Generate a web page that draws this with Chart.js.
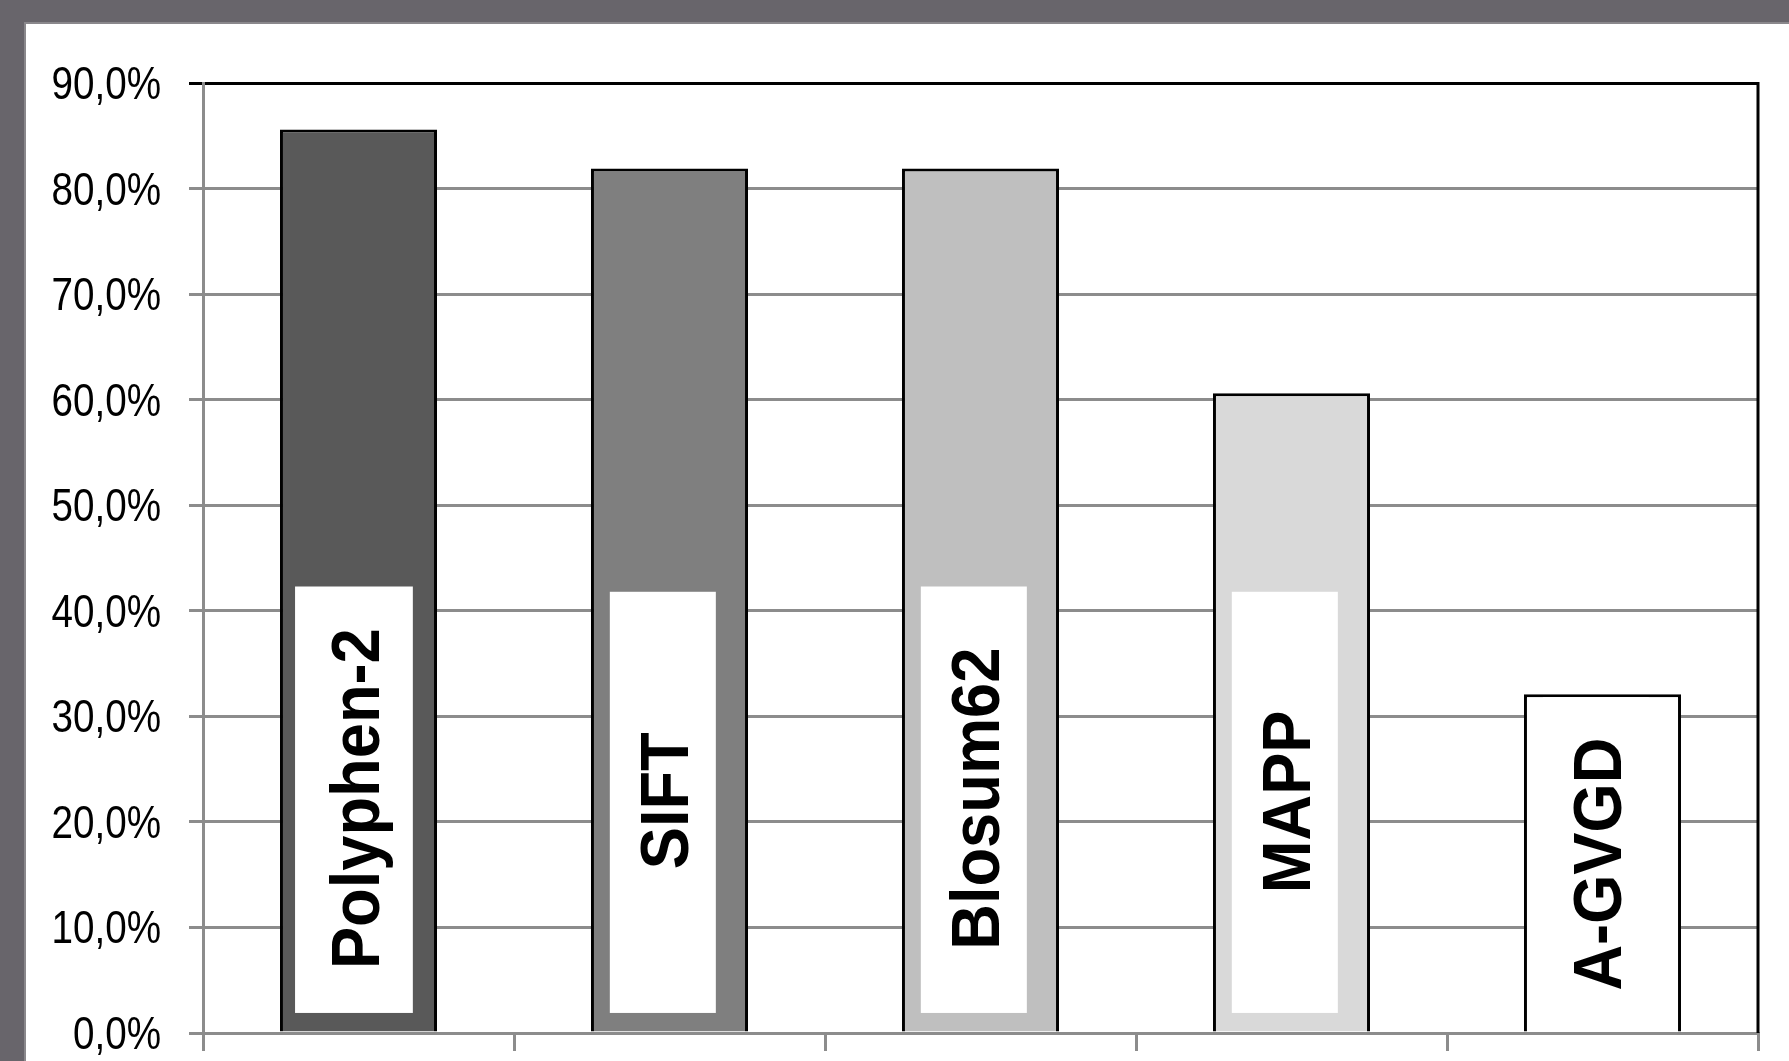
<!DOCTYPE html>
<html>
<head>
<meta charset="utf-8">
<script src="https://cdn.jsdelivr.net/npm/chart.js@4.4.1/dist/chart.umd.min.js"></script>
<style>
  html, body { margin: 0; padding: 0; background: #68656b; }
  #wrap { width: 1789px; height: 1061px; }
</style>
</head>
<body>
<div id="wrap"><canvas id="chart"></canvas></div>
<script>
// Data
const methods = ['Polyphen-2', 'SIFT', 'Blosum62', 'MAPP', 'A-GVGD'];
const accuracy = [85.6, 81.9, 81.9, 60.6, 32.1];
const barColors = ['#595959', '#7f7f7f', '#bfbfbf', '#d9d9d9', '#ffffff'];
const yTicks = [0, 10, 20, 30, 40, 50, 60, 70, 80, 90];

// White label boxes inside the bars (value units) and where the text sits
const boxTop = [42.3, 41.8, 42.3, 41.8, 41.8];
const boxBottom = 1.9;
const labelMid = [22.2, 22.0, 22.2, 21.9, 16.0];

const GRID = '#8c8c8c';

function fmtPct(v) {
    return v.toFixed(1).replace('.', ',') + '%';
}

// panel background (grey frame + white sheet)
const framePlugin = {
    id: 'frame',
    beforeDraw(chart) {
        const ctx = chart.ctx;
        ctx.save();
        ctx.fillStyle = '#68656b';
        ctx.fillRect(0, 0, chart.width, chart.height);
        ctx.fillStyle = '#8a888c';
        ctx.fillRect(24, 22, chart.width - 24, chart.height - 22);
        ctx.fillStyle = '#ffffff';
        ctx.fillRect(26, 24, chart.width - 26, chart.height - 24);
        ctx.restore();
    }
};

// y tick labels, drawn narrow like the original
const yLabelPlugin = {
    id: 'yLabels',
    afterDraw(chart) {
        const ctx = chart.ctx;
        const y = chart.scales.y;
        ctx.save();
        ctx.fillStyle = '#000';
        ctx.font = '46px "Liberation Sans", Arial, sans-serif';
        ctx.textAlign = 'right';
        ctx.textBaseline = 'alphabetic';
        yTicks.forEach(v => {
            const py = y.getPixelForValue(v);
            ctx.save();
            ctx.translate(161, py + 16);
            ctx.scale(0.84, 1);
            ctx.fillText(fmtPct(v), 0, 0);
            ctx.restore();
        });
        ctx.restore();
    }
};

// method names in white boxes inside each bar + right frame line
const barLabelPlugin = {
    id: 'barLabels',
    afterDatasetsDraw(chart) {
        const ctx = chart.ctx;
        const y = chart.scales.y;
        const area = chart.chartArea;
        const bars = chart.getDatasetMeta(0).data;
        ctx.save();
        bars.forEach((bar, i) => {
            const left = bar.x - bar.width / 2;
            const inset = i === 0 ? 0.096 : 0.12;
            const bw = i === 0 ? 0.75 : 0.675;
            const bx = left + bar.width * inset;
            const boxW = bar.width * bw;
            // keep the box inside the bar
            const top = Math.max(y.getPixelForValue(boxTop[i]), bar.y + 3);
            const bottom = y.getPixelForValue(boxBottom);
            ctx.fillStyle = '#ffffff';
            ctx.fillRect(bx, top, boxW, bottom - top);

            const cx = bx + boxW / 2;
            const cy = y.getPixelForValue(labelMid[i]);
            ctx.save();
            ctx.translate(cx + 25, cy);
            ctx.rotate(-Math.PI / 2);
            ctx.scale(0.93, 1);
            ctx.fillStyle = '#000';
            ctx.font = 'bold 68px "Liberation Sans", Arial, sans-serif';
            ctx.textAlign = 'center';
            ctx.textBaseline = 'alphabetic';
            ctx.fillText(methods[i], 0, 0);
            ctx.restore();
        });
        // black right edge of plot
        ctx.strokeStyle = '#000';
        ctx.lineWidth = 3;
        ctx.beginPath();
        ctx.moveTo(area.right, area.top - 1);
        ctx.lineTo(area.right, area.bottom);
        ctx.stroke();
        ctx.restore();
    }
};

const ctx = document.getElementById('chart').getContext('2d');
new Chart(ctx, {
    type: 'bar',
    data: {
        labels: methods,
        datasets: [{
            data: accuracy,
            backgroundColor: barColors,
            borderColor: '#000000',
            borderWidth: 3,
            barPercentage: 0.505,
            categoryPercentage: 1.0
        }]
    },
    options: {
        responsive: true,
        maintainAspectRatio: false,
        animation: false,
        layout: {
            padding: { left: 0, top: 83, right: 31, bottom: 10 }
        },
        plugins: {
            legend: { display: false },
            tooltip: { enabled: false }
        },
        scales: {
            x: {
                grid: {
                    drawOnChartArea: false,
                    drawTicks: true,
                    tickLength: 18,
                    color: GRID,
                    lineWidth: 3
                },
                border: { color: GRID, width: 3 },
                ticks: { display: false }
            },
            y: {
                min: 0,
                max: 90,
                afterFit(scale) { scale.width = 203; },
                ticks: {
                    stepSize: 10,
                    display: false
                },
                grid: {
                    color: c => (c.tick && c.tick.value === 90) ? '#000000' : GRID,
                    lineWidth: 3,
                    tickLength: 14
                },
                border: { color: GRID, width: 3 }
            }
        }
    },
    plugins: [framePlugin, yLabelPlugin, barLabelPlugin]
});
</script>
</body>
</html>
